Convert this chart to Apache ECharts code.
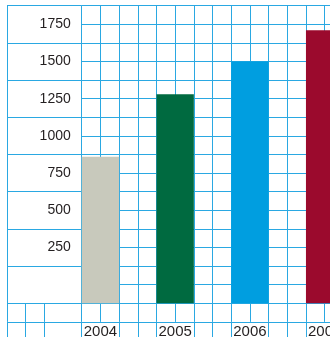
<!DOCTYPE html>
<html>
<head>
<meta charset="utf-8">
<script src="https://cdn.jsdelivr.net/npm/echarts@6/dist/echarts.min.js"></script>
<style>
  html, body { margin: 0; padding: 0; background: #fff; }
  #chart { width: 330px; height: 337px; }
</style>
</head>
<body>
<div id="chart"></div>
<script>
// Yearly totals
const years = ['2004', '2005', '2006', '2007'];
const totals = [860, 1280, 1500, 1710];
const yTickLabels = [250, 500, 750, 1000, 1250, 1500, 1750];

// One colour per year
const barColors = ['#c8c9bc', '#006a40', '#009ee0', '#9b0a2d'];

// Value range of the graph-paper area (16 rows of 125)
const Y_MIN = -125, Y_MAX = 1875;

// Graph-paper cell geometry
const CELL_W = 18.685, CELL_H = 18.6;
const LEFT = 7, TOP = 5.67;
const PLOT_BOTTOM = TOP + 16 * CELL_H;
const GRID_BLUE = '#2aa8e2';
const FONT = 'Liberation Sans, Arial, Helvetica, sans-serif';

const paperLine = () => ({ show: true, lineStyle: { color: GRID_BLUE, width: 1 } });
const hidden = () => ({ axisLine: { show: false }, axisTick: { show: false }, axisLabel: { show: false } });

function gridBox(left, top, width, height) {
  return { left, top, width, height, containLabel: false, outerBoundsMode: 'none' };
}

const option = {
  animation: false,
  backgroundColor: '#fff',
  grid: [
    gridBox(LEFT, TOP, 4 * CELL_W, 16 * CELL_H),               // label column
    gridBox(LEFT + 4 * CELL_W, TOP, 14 * CELL_W, 16 * CELL_H), // plot paper
    gridBox(LEFT + 3 * CELL_W, TOP, 16 * CELL_W, 16 * CELL_H), // bars
    gridBox(LEFT, PLOT_BOTTOM, 18 * CELL_W, CELL_H),           // strip under the plot
    gridBox(LEFT, PLOT_BOTTOM + CELL_H, 18 * CELL_W, CELL_H)   // year strip
  ],
  xAxis: [
    { gridIndex: 0, type: 'value', min: 0, max: 1, interval: 1, ...hidden(), splitLine: paperLine() },
    { gridIndex: 1, type: 'value', min: 0, max: 14, interval: 1, ...hidden(), splitLine: paperLine() },
    { gridIndex: 2, type: 'category', data: years, z: 10,
      axisLine: { show: false }, axisTick: { show: false }, splitLine: { show: false },
      axisLabel: {
        interval: 0, margin: 21, fontSize: 15, lineHeight: 15, fontFamily: FONT,
        color: '#231f20', backgroundColor: '#fff', padding: [0, 1]
      } },
    { gridIndex: 3, type: 'value', min: 0, max: 18,
      axisLine: { show: false }, axisLabel: { show: false },
      axisTick: { show: false, customValues: [0, 1, 2, 4, 5, 6, 7, 8, 9, 10, 11, 12, 13, 14, 15, 16, 17, 18] },
      splitLine: paperLine() },
    { gridIndex: 4, type: 'value', min: 0, max: 18,
      axisLine: { show: false }, axisLabel: { show: false },
      axisTick: { show: false, customValues: [0, 1, 2, 4, 6, 7, 8, 10, 11, 12, 14, 15, 16, 18] },
      splitLine: paperLine() }
  ],
  yAxis: [
    { gridIndex: 0, type: 'value', min: Y_MIN, max: Y_MAX, interval: 250, ...hidden(), splitLine: paperLine() },
    { gridIndex: 1, type: 'value', min: Y_MIN, max: Y_MAX, interval: 125,
      axisLine: { show: false }, axisTick: { show: false },
      axisLabel: { customValues: yTickLabels, formatter: v => String(v), margin: 11,
        fontSize: 14, fontFamily: FONT, color: '#231f20' },
      splitLine: paperLine() },
    { gridIndex: 2, type: 'value', min: Y_MIN, max: Y_MAX, show: false },
    { gridIndex: 3, type: 'value', min: 0, max: 1, interval: 1, ...hidden(), splitLine: paperLine() },
    { gridIndex: 4, type: 'value', min: 0, max: 1, interval: 1, ...hidden(), splitLine: paperLine() }
  ],
  series: [{
    type: 'custom',
    xAxisIndex: 2,
    yAxisIndex: 2,
    data: years.map((y, i) => [i, totals[i]]),
    // Each bar fills the left half of its year band, standing on the bottom of the paper
    renderItem(params, api) {
      const i = api.value(0);
      const top = api.coord([i, api.value(1)]);
      const base = api.coord([i, Y_MIN]);
      const w = api.size([1, 0])[0] / 2;
      return {
        type: 'rect',
        shape: { x: top[0] - w / 2, y: top[1], width: w, height: base[1] - top[1] },
        style: { fill: barColors[i] }
      };
    }
  }]
};

echarts.init(document.getElementById('chart'), null, { renderer: 'canvas' }).setOption(option);
</script>
</body>
</html>
